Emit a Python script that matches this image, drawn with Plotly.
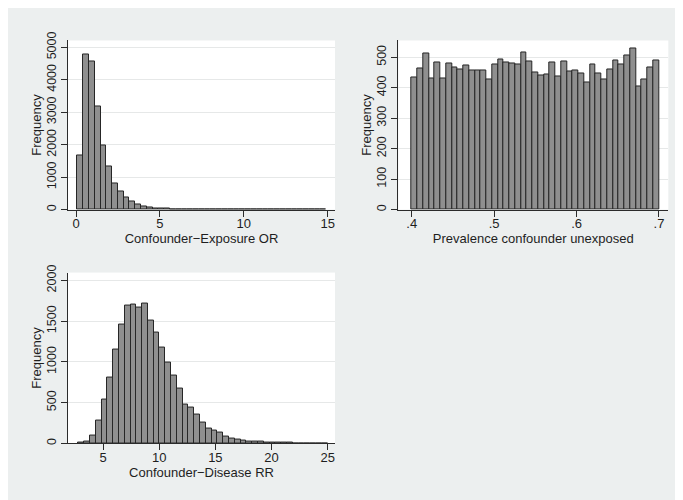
import plotly.graph_objects as go

# ---------------- data ----------------
or_bin_start = 0.08
or_bin_width = 0.345
or_counts = [1673, 4770, 4560, 3176, 1984, 1343, 822, 571, 391, 241,
             160, 100, 60, 40, 30, 22, 15, 12, 8, 6,
             5, 4, 4, 3, 3, 2, 2, 2, 1, 2,
             1, 1, 1, 2, 0, 1, 0, 0, 0, 0,
             1, 2, 1]

prev_bin_start = 0.4
prev_bin_width = 0.3 / 43
prev_counts = [433, 463, 514, 430, 482, 429, 480, 467, 460, 474,
               457, 457, 455, 427, 476, 492, 483, 481, 476, 515,
               487, 451, 441, 444, 484, 438, 486, 452, 458, 447,
               416, 477, 446, 426, 461, 488, 475, 505, 530, 403,
               428, 465, 490]

rr_bin_start = 2.8
rr_bin_width = 0.516
rr_counts = [12, 28, 100, 276, 544, 808, 1148, 1460, 1688, 1700,
             1668, 1712, 1512, 1360, 1172, 988, 828, 668, 476, 440,
             356, 256, 184, 156, 132, 80, 64, 52, 36, 28,
             20, 28, 10, 12, 8, 6, 5, 4, 4, 3,
             2, 2, 2]

or_xticks = [0, 5, 10, 15]
prev_xticks = [0.4, 0.5, 0.6, 0.7]
prev_xticklabels = [".4", ".5", ".6", ".7"]
rr_xticks = [5, 10, 15, 20, 25]
or_yticks = [0, 1000, 2000, 3000, 4000, 5000]
prev_yticks = [0, 100, 200, 300, 400, 500]
rr_yticks = [0, 500, 1000, 1500, 2000]

x_titles = ["Confounder\u2212Exposure OR", "Prevalence confounder unexposed",
            "Confounder\u2212Disease RR"]
y_title = "Frequency"

# ---------------- styling ----------------
W, H = 683, 500
OFF = 8  # page body margin: figure pixel = screen pixel - OFF
BG = "#ECEFEF"
BAR_FILL = "#8F8F8F"
BAR_LINE = "#262626"
AX = "#2b2b2b"
GRID = "#E6E8E8"
TXT = "#1e1e1e"
FONT = "Liberation Sans, Arial, Helvetica, sans-serif"


def centers(start, width, counts):
    return [start + width * (i + 0.5) for i in range(len(counts))]


fig = go.Figure()

specs = [
    (or_bin_start, or_bin_width, or_counts, "x", "y"),
    (prev_bin_start, prev_bin_width, prev_counts, "x2", "y2"),
    (rr_bin_start, rr_bin_width, rr_counts, "x3", "y3"),
]
for start, width, counts, xa, ya in specs:
    fig.add_trace(go.Bar(
        x=centers(start, width, counts), y=counts,
        width=[width] * len(counts),
        marker=dict(color=BAR_FILL, line=dict(color=BAR_LINE, width=1)),
        xaxis=xa, yaxis=ya, showlegend=False, hoverinfo="x+y",
    ))


def px_x(p):
    return (p - OFF) / W


def px_y(p):
    return 1 - (p - OFF) / H


common_x = dict(showline=True, linecolor=AX, linewidth=1, ticks="outside",
                ticklen=6, tickcolor=AX, tickwidth=1, showgrid=False,
                zeroline=False, mirror=False, ticklabelstandoff=-4,
                tickfont=dict(family=FONT, size=13, color=TXT),
                title=dict(font=dict(family=FONT, size=13, color=TXT), standoff=0))
common_y = dict(showline=True, linecolor=AX, linewidth=1, ticks="outside",
                ticklen=6, tickcolor=AX, tickwidth=1, showgrid=True,
                gridcolor=GRID, gridwidth=1, zeroline=False, tickangle=-90,
                tickfont=dict(family=FONT, size=12.5, color=TXT),
                title=dict(text=y_title, font=dict(family=FONT, size=13, color=TXT), standoff=0))

top = (32, 205)
bot = (269.3, 444)
left = (68, 335)
right = (398.3, 668.3)

fig.update_layout(
    width=W, height=H,
    margin=dict(l=0, r=0, t=0, b=0),
    paper_bgcolor=BG, plot_bgcolor="white",
    bargap=0,
    xaxis=dict(common_x, domain=[px_x(left[0]), px_x(left[1])],
               range=[-0.477, 15.435], tickvals=or_xticks, anchor="y",
               title=dict(common_x["title"], text=x_titles[0])),
    yaxis=dict(common_y, domain=[px_y(top[1]), px_y(top[0])],
               range=[0, 5211], tickvals=or_yticks, anchor="x"),
    xaxis2=dict(common_x, domain=[px_x(right[0]), px_x(right[1])],
                range=[0.3837, 0.7113], tickvals=prev_xticks,
                ticktext=prev_xticklabels, anchor="y2",
                title=dict(common_x["title"], text=x_titles[1])),
    yaxis2=dict(common_y, domain=[px_y(top[1]), px_y(top[0])],
                range=[0, 555], tickvals=prev_yticks, anchor="x2"),
    xaxis3=dict(common_x, domain=[px_x(left[0]), px_x(left[1])],
                range=[1.88, 25.65], tickvals=rr_xticks, anchor="y3",
                title=dict(common_x["title"], text=x_titles[2])),
    yaxis3=dict(common_y, domain=[px_y(bot[1]), px_y(bot[0])],
                range=[0, 2096], tickvals=rr_yticks, anchor="x3"),
)

fig.write_html("out.html")
